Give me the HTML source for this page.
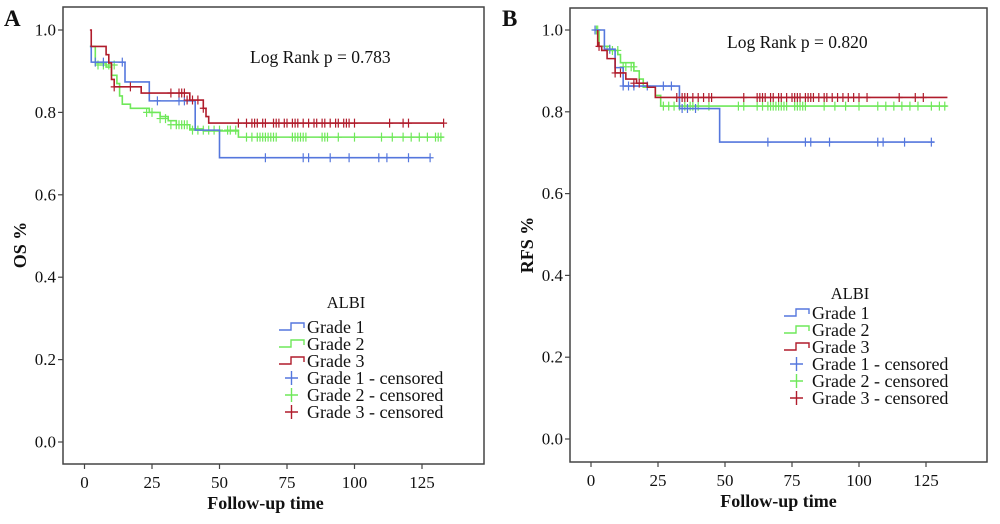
<!DOCTYPE html>
<html><head><meta charset="utf-8">
<style>
html,body{margin:0;padding:0;background:#fff;}
svg{display:block;}
text{font-family:"Liberation Serif",serif;fill:#111;}
</style></head>
<body>
<svg id="s" width="1000" height="524" viewBox="0 0 1000 524" xmlns="http://www.w3.org/2000/svg">
<text x="4" y="26" font-size="23" font-weight="bold">A</text>
<text x="502" y="26" font-size="23" font-weight="bold">B</text>
</svg>
<script>
var S=document.getElementById('s');var NS='http://www.w3.org/2000/svg';
function el(t,a,txt){var e=document.createElementNS(NS,t);for(var k in a)e.setAttribute(k,a[k]);if(txt!=null)e.textContent=txt;S.appendChild(e);return e;}
var BL='#5577dd',GR='#6fe85a',RD='#b01c2c';
function panel(P){
 var X=function(t){return P.x0+t*P.sx;},Y=function(v){return P.y0-v*P.sy;};
 el('rect',{x:P.L,y:P.T,width:P.R-P.L,height:P.B-P.T,fill:'none',stroke:'#444','stroke-width':1.5});
 [0,0.2,0.4,0.6,0.8,1.0].forEach(function(v){var y=Y(v);el('line',{x1:P.L-5,y1:y,x2:P.L,y2:y,stroke:'#444','stroke-width':1.2});
  el('text',{x:P.L-7,y:y+5.5,'font-size':17,'text-anchor':'end'},v.toFixed(1));});
 [0,25,50,75,100,125].forEach(function(t){var x=X(t);el('line',{x1:x,y1:P.B,x2:x,y2:P.B+5,stroke:'#444','stroke-width':1.2});
  el('text',{x:x,y:P.B+24,'font-size':17,'text-anchor':'middle'},t);});
 el('text',{x:(P.L+P.R)/2+P.xlOff,y:P.B+45,'font-size':18,'font-weight':'bold','text-anchor':'middle'},'Follow-up time');
 el('text',{x:0,y:0,'font-size':18,'font-weight':'bold','text-anchor':'middle',transform:'translate('+(P.L-37)+',245) rotate(-90)'},P.ylab);
 el('text',{x:P.lr[0],y:P.lr[1],'font-size':17.5},P.lrText);
 P.series.forEach(function(s){
  var d='M'+X(s.pts[0][0])+','+Y(s.pts[0][1]);
  for(var i=1;i<s.pts.length;i++){var t=s.pts[i][0],v=s.pts[i][1];d+=' H'+X(t)+' V'+Y(v);}
  d+=' H'+X(s.end);
  el('path',{d:d,fill:'none',stroke:s.c,'stroke-width':1.6});
  s.cens.forEach(function(cv){var x=X(cv[0]),y=Y(cv[1]);
   el('path',{d:'M'+(x-3.5)+','+y+'H'+(x+3.5)+'M'+x+','+(y-4.5)+'V'+(y+4.5),stroke:s.c,'stroke-width':1.2,fill:'none'});});
 });
 var g=P.leg;el('text',{x:g.ax,y:g.ay,'font-size':16.5,'text-anchor':'middle'},'ALBI');
 var names=['Grade 1','Grade 2','Grade 3','Grade 1 - censored','Grade 2 - censored','Grade 3 - censored'];
 var cols=[BL,GR,RD,BL,GR,RD];
 for(var i=0;i<6;i++){var y=g.y+i*17;
  if(i<3)el('path',{d:'M'+g.x+','+(y+3)+'H'+(g.x+12)+'V'+(y-4)+'H'+(g.x+25)+'V'+(y+1),fill:'none',stroke:cols[i],'stroke-width':1.4});
  else el('path',{d:'M'+(g.x+6)+','+y+'H'+(g.x+19)+'M'+(g.x+12.5)+','+(y-7)+'V'+(y+7),fill:'none',stroke:cols[i],'stroke-width':1.4});
  el('text',{x:g.x+28,y:y+6,'font-size':18},names[i]);}
}
function cs(ts,v){return ts.map(function(t){return [t,v];});}
panel({L:63,R:484,T:7,B:464,x0:84.5,sx:2.7,y0:442,sy:412,ylab:'OS %',xlOff:-8,lr:[250,63],lrText:'Log Rank p = 0.783',
 leg:{ax:346,ay:308,x:279,y:327},
 series:[
 {c:GR,end:133,pts:[[2,0.96],[4,0.92],[8,0.91],[10,0.89],[12,0.87],[13,0.84],[14,0.82],[17,0.81],[24,0.80],[28,0.79],[31,0.78],[34,0.77],[39,0.76],[44,0.755],[57,0.74]],
  cens:cs([5,7,9,11],0.915).concat(cs([23,25],0.80),cs([28,30],0.785),cs([32,34,35,36,37,38],0.77),cs([40,42,44,46,48,50],0.757),cs([53,54,56],0.757),cs([60,62,64,65,66,67,68,69,70,71,77,78,79,80,81,82,88,89,90,94,100,110,114,118,121,124,127,130,131,132],0.74))},
 {c:BL,end:128,pts:[[2,0.96],[2.5,0.922],[15,0.874],[24,0.828],[41,0.757],[50,0.69]],
  cens:cs([4,7],0.922).concat(cs([14],0.922),cs([27,35,37],0.828),cs([67,81,83,91,98,109,112,120,128],0.69))},
 {c:RD,end:133,pts:[[2,1.0],[2.5,0.96],[8,0.94],[9,0.92],[10,0.88],[11,0.862],[21,0.847],[39,0.83],[44,0.81],[45,0.79],[46,0.774]],
  cens:cs([11,17],0.862).concat(cs([32,35,36,37],0.847),cs([38,40,42],0.83),cs([44],0.81),cs([57,60,62,63,64,66,67,70,71,72,74,75,77,78,79,81,83,85,86,88,89,91,93,94,96,97,98,100,113,118,120,133],0.774))}
 ]});
panel({L:570,R:987,T:8,B:462,x0:591,sx:2.68,y0:439,sy:409,ylab:'RFS %',xlOff:0,lr:[727,48],lrText:'Log Rank p = 0.820',
 leg:{ax:850,ay:299,x:784,y:313},
 series:[
 {c:GR,end:133,pts:[[1.5,1.0],[3,0.96],[7,0.95],[10,0.94],[11,0.92],[16,0.90],[18,0.88],[19.5,0.86],[24,0.84],[26,0.814]],
  cens:cs([2,2.5],1.0).concat(cs([6,8,10],0.95),cs([12,13,15,16],0.91),cs([27,29,31,33,35,37,38,40,44],0.814),cs([55,57,62,64,66,67,68,69,70,71,72,73,76,77,78,79,80,87,91,95,100,107,110,113,116,119,122,127,130,132],0.814))},
 {c:BL,end:128,pts:[[1.5,1.0],[5,0.953],[9,0.908],[12,0.863],[33,0.808],[48,0.726]],
  cens:cs([1.5],1.0).concat(cs([7],0.953),cs([12,14,16,21,27,30],0.863),cs([34,36,39],0.808),cs([66,80,82,89,107,109,117,127],0.726))},
 {c:RD,end:133,pts:[[2.5,1.0],[2.5,0.96],[4,0.95],[6,0.93],[9,0.895],[13,0.88],[17,0.87],[21,0.86],[24,0.835]],
  cens:cs([3],0.96).concat(cs([9,11],0.895),cs([16,18],0.87),cs([32,34,35,36,38,40,42,44,45],0.835),cs([57,62,63,64,65,67,68,70,71,73,75,76,77,78,80,81,82,83,85,87,88,90,92,94,96,98,100,103,115,121,124],0.835))}
 ]});
</script>
</body></html>
